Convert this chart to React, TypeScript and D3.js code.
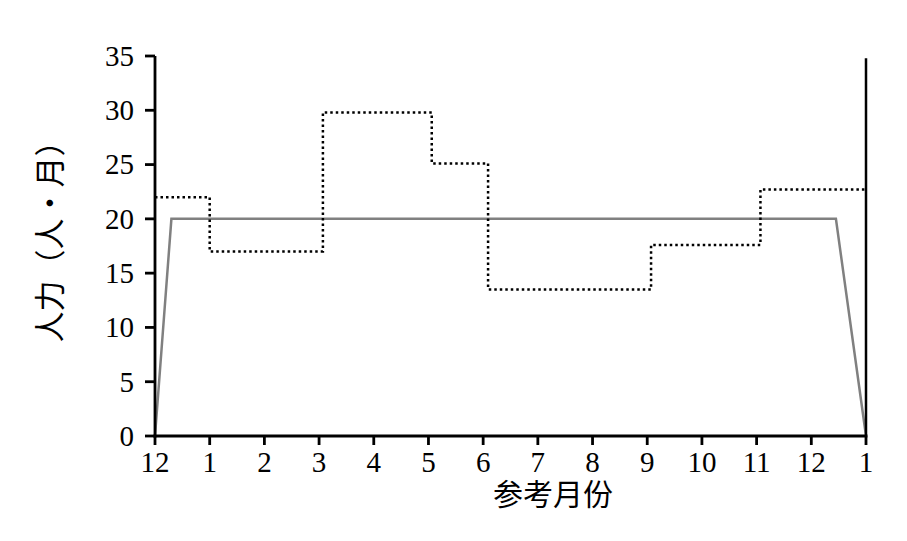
import React from "react";
import * as d3 from "d3";

const tickLabels = ["12", "1", "2", "3", "4", "5", "6", "7", "8", "9", "10", "11", "12", "1"];
const yTicks = [0, 5, 10, 15, 20, 25, 30, 35];
// planned staffing (grey)
const planX = [0, 0.3, 12.45, 13];
const planY = [0, 20, 20, 0];
// actual staffing (dotted step)
const stepStarts = [0, 1, 3.07, 5.06, 6.09, 9.07, 11.07];
const stepValues = [22, 17, 29.8, 25.1, 13.5, 17.6, 22.7];
const stepEnd = 13;

const W = 907, H = 541;
const L = 155, R = 866, T = 56, B = 436;

export default function App() {
  const x = d3.scaleLinear().domain([0, 13]).range([L, R]);
  const y = d3.scaleLinear().domain([0, 35]).range([B, T]);

  const planPts: [number, number][] = planX.map((v, i) => [x(v), y(planY[i])]);
  const planPath = d3.line()(planPts) || "";

  const stepPts: [number, number][] = stepStarts.map((s, i) => [x(s), y(stepValues[i])]);
  stepPts.push([x(stepEnd), y(stepValues[stepValues.length - 1])]);
  const stepPath = d3.line().curve(d3.curveStepAfter)(stepPts) || "";

  const serif = "'Liberation Serif', 'DejaVu Serif', serif";
  const cjk = "'Noto Sans CJK SC', sans-serif";

  return (
    <svg width={W} height={H} style={{ position: "absolute", left: 0, top: 0, background: "#fff" }}>
      <rect x={0} y={0} width={W} height={H} fill="#fff" />
      <path d={planPath} fill="none" stroke="#808080" strokeWidth={2.5} />
      <path d={stepPath} fill="none" stroke="#000" strokeWidth={2.5} strokeDasharray="2.5,3" />
      {/* right boundary line */}
      <line x1={x(13)} x2={x(13)} y1={y(34.8)} y2={B} stroke="#000" strokeWidth={2.5} />
      {/* axes */}
      <line x1={L} x2={L} y1={T} y2={B + 1.4} stroke="#000" strokeWidth={2.8} />
      <line x1={L - 1.4} x2={R + 1.4} y1={B} y2={B} stroke="#000" strokeWidth={2.8} />
      {yTicks.map((t) => (
        <g key={"y" + t}>
          <line x1={L - 10} x2={L} y1={y(t)} y2={y(t)} stroke="#000" strokeWidth={2.8} />
          <text x={L - 21} y={y(t)} dy="0.34em" textAnchor="end" fontFamily={serif} fontSize={29} fill="#000">
            {t}
          </text>
        </g>
      ))}
      {tickLabels.map((lab, i) => (
        <g key={"x" + i}>
          <line x1={x(i)} x2={x(i)} y1={B} y2={B + 9} stroke="#000" strokeWidth={2.8} />
          <text x={x(i)} y={472} textAnchor="middle" fontFamily={serif} fontSize={29} fill="#000">
            {lab}
          </text>
        </g>
      ))}
      <text x={553} y={505} textAnchor="middle" fontFamily={cjk} fontSize={30} fill="#000">
        参考月份
      </text>
      <text
        transform={`translate(61, 234) rotate(-90)`}
        textAnchor="middle"
        fontFamily={cjk}
        fontSize={31}
        fill="#000"
      >
        人力（人·月）
      </text>
    </svg>
  );
}
